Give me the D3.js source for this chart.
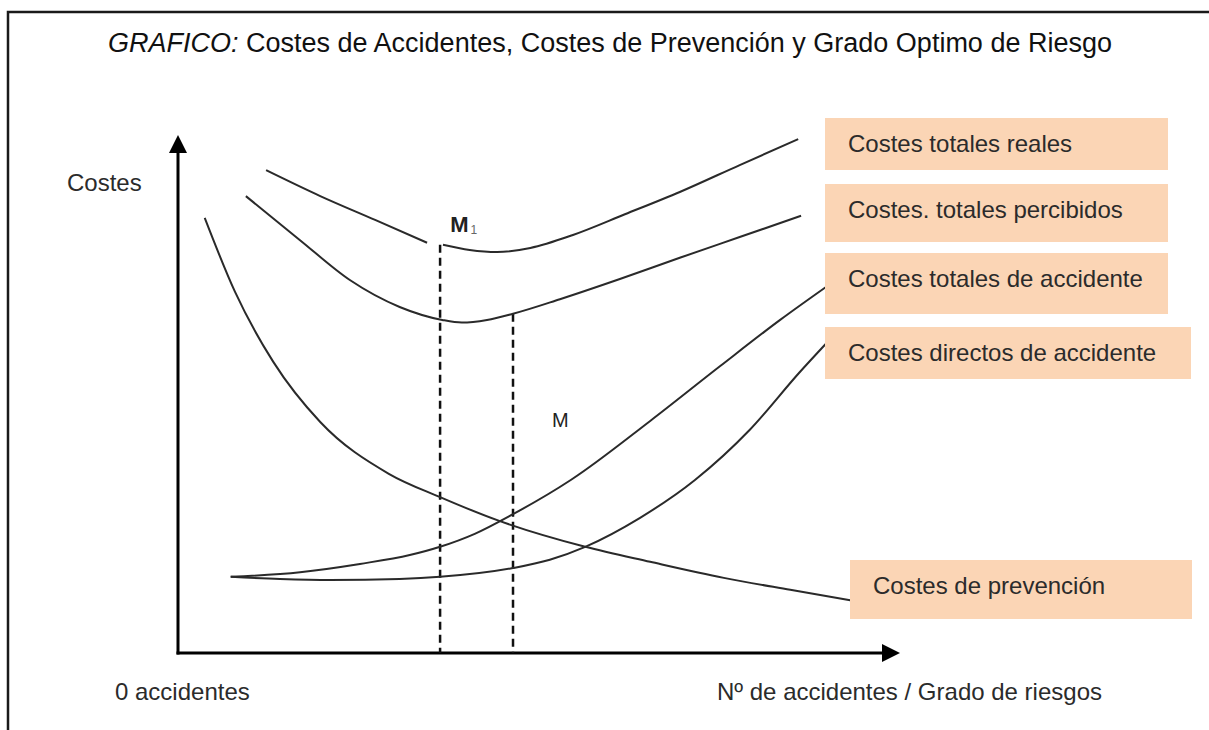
<!DOCTYPE html>
<html lang="es">
<head>
<meta charset="UTF-8">
<title>Costes de Accidentes</title>
<script src="https://d3js.org/d3.v7.min.js"></script>
<style>
    body { margin: 0; background: #fff; }
    svg { font-family: "Liberation Sans", Arial, sans-serif; }
    .curve { fill: none; stroke: #2a2a2a; stroke-width: 2; }
    .guide { stroke: #111; stroke-width: 2.5; stroke-dasharray: 8 5; }
    .box { fill: #fbd5b5; }
    .box-label { font-size: 24px; fill: #2b2b2b; }
    .axis-label { font-size: 24px; fill: #2b2b2b; }
</style>
</head>
<body>
<svg id="chart"></svg>
<script>
// curve values (x: risk level 0-100, y: cost 0-100)
const reales = [
    [12.2, 93.2], [19.7, 88.2], [27.3, 83.6], [34.5, 79.2], null,
    [36.7, 78.8], [40.4, 77.8], [44.2, 77.4], [48.8, 78.2], [54.7, 80.7],
    [61.9, 84.7], [69.5, 89.0], [77.8, 94.2], [85.9, 99.2]
];
const percibidos = [
    [9.4, 88.2], [16.9, 79.7], [23.8, 72.0], [30.7, 66.8], [36.6, 64.3],
    [39.3, 63.8], [42.8, 64.3], [46.4, 65.5], [52.9, 68.3], [61.2, 72.2],
    [69.5, 76.3], [77.8, 80.3], [86.3, 84.4]
];
const totalesAccidente = [
    [7.3, 14.7], [16.9, 15.6], [25.2, 17.2], [32.1, 18.9], [36.3, 20.5],
    [41.1, 23.0], [46.4, 26.8], [54.4, 33.4], [65.4, 44.8], [75.1, 55.4],
    [83.4, 64.3], [89.8, 70.7]
];
const directosAccidente = [
    [7.3, 14.7], [14.1, 14.3], [21.1, 14.1], [30.7, 14.3], [36.3, 14.7],
    [46.4, 16.4], [51.5, 18.0], [56.4, 20.5], [64.0, 26.1], [71.6, 33.4],
    [79.2, 43.1], [86.1, 54.2], [89.8, 59.8]
];
const prevencion = [
    [3.7, 84.0], [7.9, 69.7], [13.2, 56.2], [19.7, 44.6], [29.2, 34.6],
    [36.3, 30.1], [44.5, 25.5], [56.4, 20.5], [65.4, 17.6], [75.6, 14.5],
    [84.8, 12.2], [93.1, 10.2]
];
// optimum markers: [name, x, top y]
const optimos = [["M1", 36.3, 78.8], ["M", 46.4, 65.5]];

const boxLabels = [
    "Costes totales reales",
    "Costes. totales percibidos",
    "Costes totales de accidente",
    "Costes directos de accidente",
    "Costes de prevención"
];

const width = 1209, height = 730;

const svg = d3.select("#chart")
    .attr("width", width)
    .attr("height", height);

const x = d3.scaleLinear().domain([0, 100]).range([178, 900]);
const y = d3.scaleLinear().domain([0, 100]).range([653, 135]);

// frame (top and left edges only)
svg.append("path")
    .attr("d", "M8,730 V12 H1209")
    .attr("fill", "none")
    .attr("stroke", "#1a1a1a")
    .attr("stroke-width", 2.5);

// title
const title = svg.append("text")
    .attr("x", 108)
    .attr("y", 52)
    .attr("font-size", 27)
    .attr("fill", "#111");
title.append("tspan").attr("font-style", "italic").text("GRAFICO:");
title.append("tspan").text(" Costes de Accidentes, Costes de Prevención y Grado Optimo de Riesgo");

// axes with arrow heads
const x0 = x(0), y0 = y(0), xEnd = x(100), yEnd = y(100);
svg.append("line")
    .attr("x1", x0).attr("y1", y0 + 1.5)
    .attr("x2", x0).attr("y2", yEnd + 14)
    .attr("stroke", "#000").attr("stroke-width", 3);
svg.append("path")
    .attr("d", `M${x0},${yEnd} L${x0 - 9},${yEnd + 18} L${x0 + 9},${yEnd + 18} Z`)
    .attr("fill", "#000");
svg.append("line")
    .attr("x1", x0 - 1.5).attr("y1", y0)
    .attr("x2", xEnd - 14).attr("y2", y0)
    .attr("stroke", "#000").attr("stroke-width", 3);
svg.append("path")
    .attr("d", `M${xEnd},${y0} L${xEnd - 18},${y0 - 9} L${xEnd - 18},${y0 + 9} Z`)
    .attr("fill", "#000");

svg.append("text").attr("class", "axis-label").attr("x", 67).attr("y", 191).text("Costes");
svg.append("text").attr("class", "axis-label").attr("x", 115).attr("y", 700).text("0 accidentes");
svg.append("text").attr("class", "axis-label").attr("x", 717).attr("y", 700)
    .text("Nº de accidentes / Grado de riesgos");

// dashed guides down to the x axis
svg.selectAll(".guide")
    .data(optimos)
    .join("line")
    .attr("class", "guide")
    .attr("x1", d => x(d[1])).attr("x2", d => x(d[1]))
    .attr("y1", d => y(d[2])).attr("y2", y0);

// curves
const line = d3.line()
    .defined(d => d !== null)
    .x(d => x(d[0]))
    .y(d => y(d[1]))
    .curve(d3.curveMonotoneX);

svg.selectAll(".curve")
    .data([reales, percibidos, totalesAccidente, directosAccidente, prevencion])
    .join("path")
    .attr("class", "curve")
    .attr("d", line);

// M1 and M labels
const m1 = svg.append("text")
    .attr("x", x(37.7)).attr("y", y(81.3))
    .attr("font-size", 22).attr("font-weight", "bold").attr("fill", "#222");
m1.append("tspan").text("M");
m1.append("tspan").attr("font-size", 12).attr("font-weight", "normal")
    .attr("fill", "#666").attr("dx", 2).attr("dy", 2).text("1");
svg.append("text")
    .attr("x", x(51.8)).attr("y", y(43.6))
    .attr("font-size", 20).attr("fill", "#222")
    .text("M");

// label boxes
const boxes = [
    { x: 825, y: 118, w: 343, h: 52 },
    { x: 825, y: 184, w: 343, h: 58 },
    { x: 825, y: 253, w: 343, h: 61 },
    { x: 825, y: 327, w: 366, h: 52 },
    { x: 850, y: 560, w: 342, h: 59 }
];
const g = svg.selectAll(".lbl")
    .data(boxes)
    .join("g")
    .attr("class", "lbl");
g.append("rect")
    .attr("class", "box")
    .attr("x", d => d.x).attr("y", d => d.y)
    .attr("width", d => d.w).attr("height", d => d.h);
g.append("text")
    .attr("class", "box-label")
    .attr("x", d => d.x + 23)
    .attr("y", d => d.y + 34)
    .text((d, i) => boxLabels[i]);
</script>
</body>
</html>
